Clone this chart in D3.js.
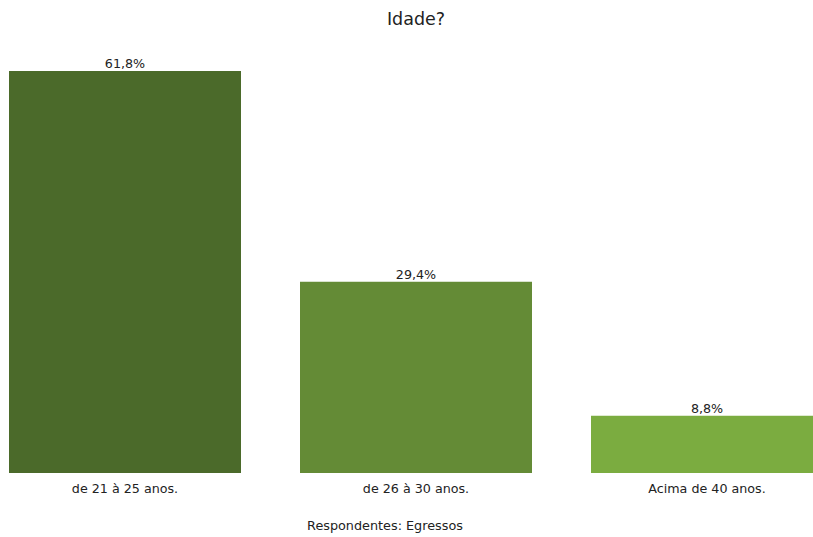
<!DOCTYPE html>
<html><head><meta charset="utf-8">
<script src="https://cdn.jsdelivr.net/npm/d3@7"></script>
<style>body{margin:0;background:#fff}svg{display:block}text{font-family:"DejaVu Sans",sans-serif;fill:#222}</style>
</head><body><svg id="c" width="813" height="537"></svg>
<script>
const categories = ["de 21 à 25 anos.", "de 26 à 30 anos.", "Acima de 40 anos."];
const values = [61.8, 29.4, 8.8];
const valueLabels = ["61,8%", "29,4%", "8,8%"];
const colors = ["#4b6a2a", "#648b36", "#7bac40"];
const title = "Idade?";
const xTitle = "Respondentes: Egressos";

const svg = d3.select("#c");
// band scale: first bar starts at x=9, width 232, step 291
const xb = d3.scaleBand().domain(categories).range([-20.5, 852.5]).paddingInner(59/291).paddingOuter(59/2/291);
const y = d3.scaleLinear().domain([0, 61.8]).range([473, 71]);

svg.selectAll("rect.bar").data(values).join("rect")
  .attr("x", (d,i) => xb(categories[i]))
  .attr("width", xb.bandwidth())
  .attr("y", d => y(d))
  .attr("height", d => y(0) - y(d))
  .attr("fill", (d,i) => colors[i]);

svg.selectAll("text.val").data(values).join("text")
  .attr("x", (d,i) => xb(categories[i]) + xb.bandwidth()/2)
  .attr("y", d => y(d) - 3)
  .attr("text-anchor", "middle").attr("font-size", 12.7)
  .text((d,i) => valueLabels[i]);

const ax = svg.append("g").attr("transform", "translate(0,473)").call(d3.axisBottom(xb).tickSize(0).tickPadding(10.5));
ax.select(".domain").remove();
ax.selectAll("text").attr("font-size", 12.7).attr("font-family", "DejaVu Sans").attr("fill", "#222");

svg.append("text").attr("x", 416).attr("y", 25).attr("text-anchor", "middle").attr("font-size", 17.5).text(title);
svg.append("text").attr("x", 385).attr("y", 530).attr("text-anchor", "middle").attr("font-size", 12.8).text(xTitle);
</script></body></html>
